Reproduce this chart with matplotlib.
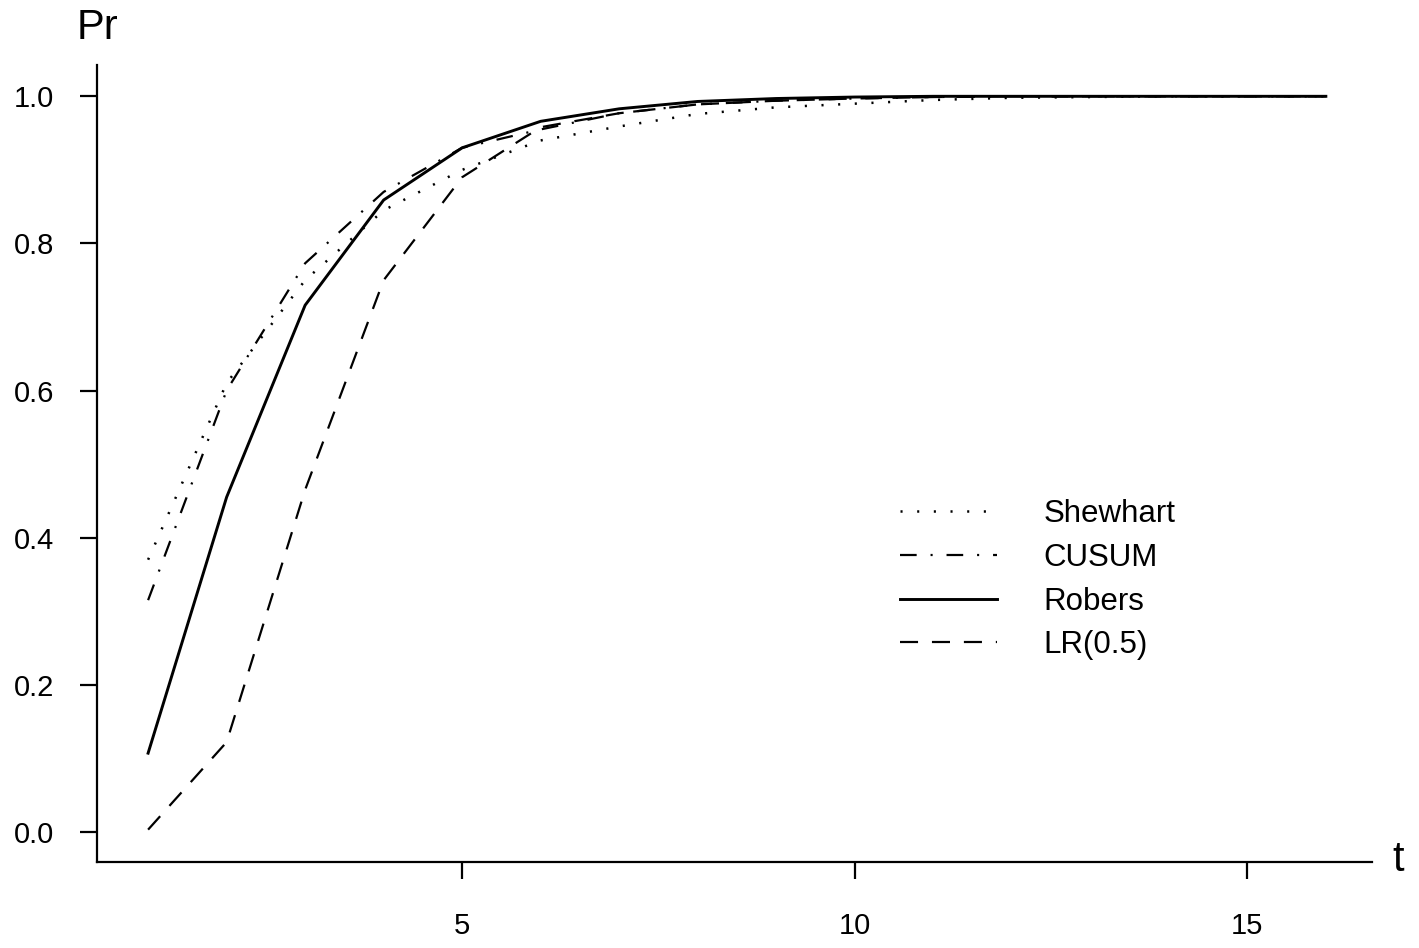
import matplotlib
matplotlib.use("Agg")
import matplotlib.pyplot as plt

plt.rcParams['font.family'] = ['Liberation Sans', 'DejaVu Sans']
plt.rcParams['lines.scale_dashes'] = False

# run length t and probability of alarm for each method
t = list(range(1, 17))
shewhart = [0.37, 0.61, 0.75, 0.845, 0.90, 0.94, 0.959, 0.976, 0.985, 0.99, 0.995, 0.998, 0.999, 1.0, 1.0, 1.0]
cusum = [0.315, 0.60, 0.773, 0.87, 0.93, 0.955, 0.977, 0.989, 0.994, 0.997, 0.999, 1.0, 1.0, 1.0, 1.0, 1.0]
robers = [0.107, 0.455, 0.716, 0.859, 0.93, 0.966, 0.983, 0.993, 0.997, 0.999, 1.0, 1.0, 1.0, 1.0, 1.0, 1.0]
lr05 = [0.003, 0.122, 0.465, 0.75, 0.89, 0.958, 0.977, 0.989, 0.994, 0.997, 0.999, 1.0, 1.0, 1.0, 1.0, 1.0]

fig = plt.figure(figsize=(14.19, 9.48), dpi=100)
ax = fig.add_axes([0.0684, 0.0907, 0.967 - 0.0684, 0.931 - 0.0907])

ax.plot(t, shewhart, color='black', lw=1.8, linestyle=(0, (1.5, 10.5)), label='Shewhart')
ax.plot(t, cusum, color='black', lw=1.6, linestyle=(0, (12, 10, 1.5, 10)), label='CUSUM')
ax.plot(t, robers, color='black', lw=2.1, linestyle='-', label='Robers')
ax.plot(t, lr05, color='black', lw=1.6, linestyle=(0, (13, 10)), label='LR(0.5)')

ax.set_xlim(0.35, 16.59)
ax.set_ylim(-0.041, 1.042)
ax.set_xticks([5, 10, 15])
ax.set_yticks([0.0, 0.2, 0.4, 0.6, 0.8, 1.0])
ax.set_yticklabels(['0.0', '0.2', '0.4', '0.6', '0.8', '1.0'])

for s in ['top', 'right']:
    ax.spines[s].set_visible(False)
for s in ['left', 'bottom']:
    ax.spines[s].set_linewidth(1.6)
ax.tick_params(axis='both', direction='out', length=12, width=1.6, labelsize=21)
ax.tick_params(axis='y', pad=19)
ax.tick_params(axis='x', pad=24)

fig.text(98 / 1419, 1 - 28 / 948, 'Pr', fontsize=30, ha='center', va='center')
fig.text(1398 / 1419, 1 - 860 / 948, 't', fontsize=30, ha='center', va='center')

ax.legend(loc='upper left', bbox_to_anchor=(900 / 1419, 1 - 499 / 948),
          bbox_transform=fig.transFigure, frameon=False, fontsize=22.5,
          handlelength=3.1, handletextpad=1.5, labelspacing=0.44, borderpad=0,
          borderaxespad=0)

fig.savefig('out.png', dpi=100)
